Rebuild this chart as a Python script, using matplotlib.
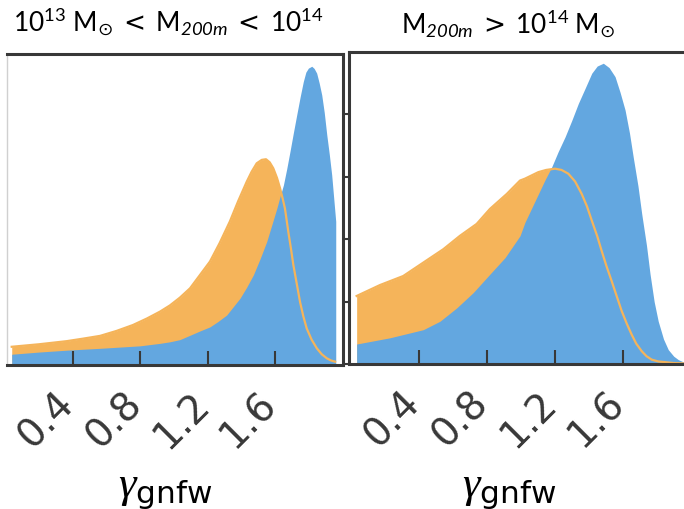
import numpy as np
import matplotlib
matplotlib.use("Agg")
import matplotlib.pyplot as plt
from matplotlib.transforms import ScaledTranslation

plt.rcParams['mathtext.fontset'] = 'custom'
plt.rcParams['mathtext.rm'] = 'Lato'
plt.rcParams['mathtext.it'] = 'Liberation Serif:italic'
plt.rcParams['mathtext.sf'] = 'DejaVu Sans'
plt.rcParams['mathtext.bf'] = 'Lato:italic'

ORANGE = '#F5B45A'
BLUE = '#63A7E0'
DARK = '#383838'

# low-mass bin (10^13 - 10^14), normalised density
lo_orange_x = [0.039, 0.2, 0.364, 0.46, 0.562, 0.66, 0.757, 0.84, 0.917, 0.976,
               1.035, 1.095, 1.15, 1.213, 1.27, 1.331, 1.38, 1.431, 1.46, 1.49,
               1.52, 1.545, 1.567, 1.588, 1.61, 1.628, 1.643, 1.657, 1.667, 1.677,
               1.692, 1.707, 1.727, 1.747, 1.766, 1.786, 1.815, 1.846, 1.875, 1.905,
               1.93, 1.954]
lo_orange_y = [0.057, 0.065, 0.075, 0.083, 0.092, 0.108, 0.127, 0.148, 0.17, 0.19,
               0.215, 0.245, 0.285, 0.331, 0.39, 0.46, 0.525, 0.588, 0.62, 0.647,
               0.658, 0.66, 0.65, 0.631, 0.6, 0.567, 0.535, 0.502, 0.465, 0.427,
               0.375, 0.32, 0.26, 0.2, 0.155, 0.116, 0.08, 0.052, 0.033, 0.02,
               0.013, 0.009]
lo_blue_x = [0.039, 0.2, 0.364, 0.46, 0.562, 0.68, 0.799, 0.917, 0.976, 1.035,
             1.095, 1.15, 1.213, 1.26, 1.312, 1.35, 1.391, 1.43, 1.47, 1.51,
             1.549, 1.58, 1.609, 1.628, 1.648, 1.668, 1.687, 1.707, 1.727, 1.747,
             1.766, 1.781, 1.796, 1.816, 1.83, 1.845, 1.86, 1.875, 1.89, 1.905,
             1.92, 1.934, 1.946, 1.958]
lo_blue_y = [0.033, 0.04, 0.046, 0.049, 0.052, 0.056, 0.06, 0.068, 0.073, 0.08,
             0.094, 0.107, 0.121, 0.138, 0.159, 0.185, 0.213, 0.248, 0.288, 0.34,
             0.395, 0.45, 0.502, 0.54, 0.577, 0.63, 0.685, 0.745, 0.803, 0.86,
             0.91, 0.94, 0.953, 0.959, 0.952, 0.937, 0.905, 0.867, 0.81, 0.738,
             0.675, 0.61, 0.535, 0.46]

# high-mass bin (> 10^14)
hi_orange_x = [0.035, 0.172, 0.309, 0.427, 0.545, 0.643, 0.741, 0.819, 0.918, 0.996,
               1.025, 1.104, 1.15, 1.202, 1.24, 1.28, 1.32, 1.359, 1.39, 1.418,
               1.45, 1.476, 1.505, 1.535, 1.565, 1.594, 1.625, 1.653, 1.68, 1.712,
               1.74, 1.771, 1.81, 1.849, 1.9, 1.96]
hi_orange_y = [0.218, 0.253, 0.282, 0.325, 0.368, 0.411, 0.449, 0.497, 0.545, 0.588,
               0.594, 0.615, 0.622, 0.626, 0.622, 0.61, 0.585, 0.545, 0.505, 0.46,
               0.41, 0.363, 0.313, 0.266, 0.217, 0.17, 0.128, 0.094, 0.065, 0.041,
               0.025, 0.014, 0.008, 0.006, 0.003, 0.002]
hi_blue_x = [0.035, 0.231, 0.427, 0.525, 0.624, 0.721, 0.819, 0.908, 0.996, 1.025,
             1.104, 1.143, 1.182, 1.22, 1.261, 1.3, 1.339, 1.38, 1.418, 1.45,
             1.486, 1.52, 1.555, 1.585, 1.614, 1.64, 1.662, 1.69, 1.712, 1.74,
             1.761, 1.785, 1.809, 1.84, 1.868, 1.9, 1.927, 1.96, 1.99]
hi_blue_y = [0.064, 0.084, 0.11, 0.137, 0.18, 0.229, 0.288, 0.341, 0.411, 0.454,
             0.545, 0.59, 0.631, 0.68, 0.728, 0.78, 0.835, 0.885, 0.932, 0.955,
             0.964, 0.95, 0.921, 0.87, 0.814, 0.74, 0.663, 0.57, 0.481, 0.38,
             0.288, 0.2, 0.137, 0.08, 0.046, 0.025, 0.014, 0.006, 0.003]

ticks = [0.4, 0.8, 1.2, 1.6]
tick_labels = ['0.4', '0.8', '1.2', '1.6']
titles = [r'$\mathrm{10^{13}\ M_{\mathsf{\odot}}\ \mathsf{<}\ M_{\mathbf{200m}}\ \mathsf{<}\ 10^{14}}$',
          r'$\mathrm{M_{\mathbf{200m}}\ \mathsf{>}\ 10^{14}\ M_{\mathsf{\odot}}}$']

W, H = 684, 510
fig = plt.figure(figsize=(W / 100, H / 100), dpi=100)

def px_axes(x0, x1, ytop, ybot):
    return fig.add_axes([x0 / W, (H - ybot) / H, (x1 - x0) / W, (ybot - ytop) / H])

ax1 = px_axes(7, 342.5, 54.5, 365.5)
ax2 = px_axes(349, 689, 53, 365)

panels = [(ax1, lo_orange_x, lo_orange_y, lo_blue_x, lo_blue_y, (0.011, 1.998)),
          (ax2, hi_orange_x, hi_orange_y, hi_blue_x, hi_blue_y, (-0.01, 1.99))]

# tick labels sit a bit right of the tick, like the original
lab_off = ScaledTranslation(0.09, -0.19, fig.dpi_scale_trans)

for ax, ox, oy, bx, by, xl in panels:
    ax.fill_between(ox, 0, oy, color=ORANGE, lw=0)
    ax.fill_between(bx, 0, by, color=BLUE, lw=0)
    ax.plot(ox, oy, color=ORANGE, lw=1.6)
    ax.set_xlim(*xl)
    ax.set_ylim(0, 1)
    ax.set_xticks(ticks)
    ax.set_xticklabels([])
    ax.tick_params(axis='x', direction='in', length=10, width=1.5, color=DARK)
    for t, lab in zip(ticks, tick_labels):
        ax.text(t, 0, lab, transform=ax.get_xaxis_transform() + lab_off,
                rotation=45, ha='right', va='top', fontsize=28, color=DARK, clip_on=False)
    for s in ax.spines.values():
        s.set_color(DARK)
        s.set_linewidth(2.2)
    ax.set_xlabel(r'$\gamma_{\mathsf{gnfw}}$', fontsize=32)

ax1.set_yticks([])
ax1.spines['left'].set_color('#d0d0d0')
ax1.spines['left'].set_linewidth(1)
ax1.xaxis.set_label_coords(0.47, -0.33)

ax2.set_yticks([0, 0.2, 0.4, 0.6, 0.8])
ax2.set_yticklabels([])
ax2.tick_params(axis='y', direction='out', length=3, width=1.5, color=DARK)
ax2.xaxis.set_label_coords(0.47, -0.33)

fig.text(168.5 / W, 1 - 33 / H, titles[0], fontsize=19, ha='center', va='baseline')
fig.text(508 / W, 1 - 35 / H, titles[1], fontsize=19, ha='center', va='baseline')

fig.savefig('out.png', dpi=100)
